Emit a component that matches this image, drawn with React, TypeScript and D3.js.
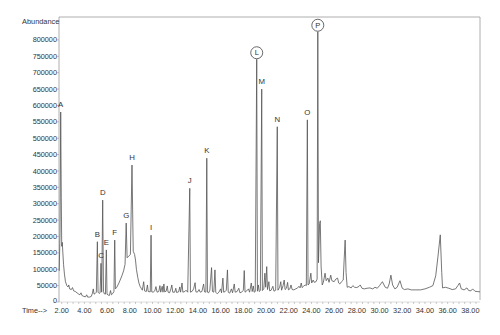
import React from "react";
import * as d3 from "d3";

// Chromatogram trace: [retention time (min), abundance]
const TRACE: [number, number][] = [
  [1.78, 95000], [1.85, 210000], [1.91, 580000], [1.96, 320000], [2.0, 170000], [2.05, 182000],
  [2.1, 150000], [2.16, 115000], [2.24, 85000], [2.33, 62000], [2.45, 50000], [2.55, 46000],
  [2.62, 52000], [2.7, 40000], [2.85, 38000], [2.95, 44000], [3.05, 34000], [3.2, 32000],
  [3.35, 28000], [3.5, 24000], [3.6, 22000], [3.7, 28000], [3.78, 20000], [3.95, 17000],
  [4.1, 16000], [4.2, 22000], [4.28, 15000], [4.45, 15000], [4.6, 17000], [4.7, 26000],
  [4.78, 40000], [4.85, 24000], [4.95, 26000], [5.05, 30000], [5.14, 184000], [5.2, 30000],
  [5.3, 26000], [5.38, 28000], [5.46, 118000], [5.52, 30000], [5.61, 311000], [5.68, 32000],
  [5.75, 25000], [5.85, 24000], [5.93, 159000], [5.99, 24000], [6.1, 21000], [6.2, 20000],
  [6.3, 35000], [6.38, 22000], [6.5, 26000], [6.6, 32000], [6.67, 189000], [6.73, 40000],
  [6.85, 45000], [7.0, 55000], [7.15, 67000], [7.3, 80000], [7.45, 95000], [7.58, 115000],
  [7.68, 241000], [7.76, 135000], [7.9, 140000], [8.05, 145000], [8.19, 418000], [8.3, 155000],
  [8.42, 145000], [8.5, 128000], [8.58, 100000], [8.7, 75000], [8.8, 58000], [8.9, 48000],
  [9.0, 42000], [9.1, 36000], [9.22, 62000], [9.3, 34000], [9.45, 32000], [9.55, 52000],
  [9.62, 32000], [9.8, 31000], [9.87, 204000], [9.93, 31000], [10.05, 30000], [10.2, 34000],
  [10.3, 47000], [10.4, 30000], [10.55, 32000], [10.65, 50000], [10.72, 30000], [10.85, 48000],
  [10.92, 30000], [11.0, 55000], [11.07, 31000], [11.2, 33000], [11.3, 49000], [11.37, 30000],
  [11.5, 28000], [11.62, 40000], [11.7, 52000], [11.78, 30000], [11.95, 30000], [12.05, 42000],
  [12.12, 29000], [12.3, 31000], [12.4, 46000], [12.47, 30000], [12.6, 58000], [12.67, 30000],
  [12.85, 32000], [12.95, 36000], [13.1, 30000], [13.28, 347000], [13.34, 30000], [13.5, 33000],
  [13.62, 40000], [13.75, 59000], [13.82, 31000], [13.95, 30000], [14.1, 38000], [14.2, 30000],
  [14.35, 32000], [14.5, 55000], [14.58, 31000], [14.7, 30000], [14.78, 439000], [14.84, 30000],
  [14.95, 28000], [15.05, 36000], [15.2, 105000], [15.28, 32000], [15.4, 30000], [15.5, 98000],
  [15.57, 30000], [15.7, 25000], [15.85, 30000], [16.0, 40000], [16.08, 28000], [16.2, 73000],
  [16.27, 30000], [16.4, 32000], [16.5, 36000], [16.6, 98000], [16.67, 30000], [16.8, 27000],
  [16.95, 40000], [17.05, 28000], [17.2, 55000], [17.28, 30000], [17.45, 32000], [17.6, 42000],
  [17.7, 28000], [17.85, 30000], [18.0, 36000], [18.08, 96000], [18.15, 30000], [18.3, 34000],
  [18.45, 40000], [18.55, 30000], [18.7, 58000], [18.78, 32000], [18.88, 49000], [18.95, 30000],
  [19.05, 32000], [19.18, 741000], [19.24, 33000], [19.32, 52000], [19.4, 32000], [19.5, 35000],
  [19.62, 650000], [19.68, 35000], [19.8, 40000], [19.9, 88000], [19.97, 45000], [20.06, 108000],
  [20.13, 38000], [20.25, 62000], [20.32, 34000], [20.45, 36000], [20.6, 48000], [20.7, 33000],
  [20.85, 36000], [20.99, 535000], [21.05, 36000], [21.2, 45000], [21.3, 62000], [21.37, 36000],
  [21.5, 50000], [21.6, 67000], [21.68, 38000], [21.8, 42000], [21.9, 60000], [21.97, 37000],
  [22.1, 40000], [22.2, 52000], [22.3, 38000], [22.45, 37000], [22.6, 40000], [22.75, 42000],
  [22.9, 48000], [23.0, 43000], [23.1, 58000], [23.18, 44000], [23.3, 48000], [23.45, 52000],
  [23.55, 50000], [23.64, 556000], [23.7, 52000], [23.8, 55000], [23.95, 88000], [24.02, 58000],
  [24.15, 67000], [24.25, 60000], [24.4, 62000], [24.5, 70000], [24.56, 825000], [24.62, 120000],
  [24.72, 240000], [24.78, 248000], [24.85, 110000], [24.95, 52000], [25.05, 60000], [25.2, 88000],
  [25.3, 65000], [25.45, 73000], [25.55, 60000], [25.7, 82000], [25.8, 65000], [26.0, 62000],
  [26.15, 70000], [26.3, 73000], [26.4, 58000], [26.5, 55000], [26.65, 62000], [26.8, 67000],
  [26.88, 128000], [26.97, 189000], [27.05, 90000], [27.15, 45000], [27.3, 47000], [27.5, 43000],
  [27.65, 50000], [27.8, 45000], [28.0, 44000], [28.2, 48000], [28.3, 52000], [28.45, 42000],
  [28.65, 40000], [28.9, 42000], [29.15, 43000], [29.4, 40000], [29.6, 45000], [29.8, 42000],
  [30.0, 50000], [30.25, 62000], [30.5, 45000], [30.7, 42000], [30.85, 55000], [31.0, 82000],
  [31.15, 52000], [31.35, 40000], [31.55, 45000], [31.8, 65000], [32.0, 42000], [32.2, 38000],
  [32.5, 40000], [32.8, 37000], [33.2, 37000], [33.6, 37000], [34.0, 40000], [34.4, 45000],
  [34.7, 50000], [34.95, 80000], [35.15, 140000], [35.35, 205000], [35.48, 90000], [35.55, 43000],
  [35.8, 45000], [36.1, 42000], [36.4, 38000], [36.7, 40000], [36.9, 50000], [37.05, 58000],
  [37.2, 40000], [37.45, 37000], [37.7, 43000], [37.85, 35000], [38.05, 34000], [38.2, 40000],
  [38.4, 33000], [38.6, 32000], [38.85, 31000],
];

const PEAK_NAMES = ["A", "B", "C", "D", "E", "F", "G", "H", "I", "J", "K", "L", "M", "N", "O", "P"];
const PEAK_TIMES = [1.91, 5.14, 5.46, 5.61, 5.93, 6.67, 7.68, 8.19, 9.87, 13.28, 14.78, 19.18, 19.62, 20.99, 23.64, 24.56];
const PEAK_HEIGHTS = [580000, 184000, 118000, 311000, 159000, 189000, 241000, 418000, 204000, 347000, 439000, 741000, 650000, 535000, 556000, 825000];
const CIRCLED = ["L", "P"];

const Y_TICKS = [0, 50000, 100000, 150000, 200000, 250000, 300000, 350000, 400000, 450000, 500000, 550000, 600000, 650000, 700000, 750000, 800000];
const X_TICKS = [2, 4, 6, 8, 10, 12, 14, 16, 18, 20, 22, 24, 26, 28, 30, 32, 34, 36, 38];
const X_DOMAIN: [number, number] = [1.76, 38.85];
const Y_DOMAIN: [number, number] = [0, 870000];

const W = 500;
const H = 335;
const LEFT = 59;
const RIGHT = 480;
const TOP = 17;
const BOTTOM = 302;
const FONT = "'Liberation Sans', Arial, sans-serif";

export default function App() {
  const x = d3.scaleLinear().domain(X_DOMAIN).range([LEFT, RIGHT]);
  const y = d3.scaleLinear().domain(Y_DOMAIN).range([BOTTOM, TOP]);
  const line = d3
    .line<[number, number]>()
    .x((d) => x(d[0]))
    .y((d) => y(d[1]));

  const minor = d3.range(2, 38.9, 0.5);

  return (
    <div style={{ position: "fixed", left: 0, top: 0 }}>
      <svg width={W} height={H} style={{ display: "block", background: "#fff" }}>
        {/* frame */}
        <path
          d={`M${LEFT},${BOTTOM} V${TOP} H${RIGHT} V${BOTTOM - 2}`}
          fill="none"
          stroke="#9a9a9a"
          strokeWidth={0.8}
        />
        <line x1={LEFT} x2={RIGHT} y1={BOTTOM} y2={BOTTOM} stroke="#c8c8c8" strokeWidth={0.6} />
        <text x={22} y={24} fontFamily={FONT} fontSize={7.4} fill="#333">
          Abundance
        </text>
        {Y_TICKS.map((v) => (
          <g key={v}>
            <line x1={LEFT - 2} x2={LEFT} y1={y(v)} y2={y(v)} stroke="#999" strokeWidth={0.6} />
            <text
              x={LEFT - 2}
              y={y(v) - (v === 0 ? 1.5 : 0)}
              dy="0.35em"
              textAnchor="end"
              fontFamily={FONT}
              fontSize={7.3}
              fill="#333"
            >
              {v}
            </text>
          </g>
        ))}
        {minor.map((t) => (
          <line key={t} x1={x(t)} x2={x(t)} y1={BOTTOM} y2={BOTTOM + 2} stroke="#999" strokeWidth={0.5} />
        ))}
        {X_TICKS.map((t) => (
          <text
            key={t}
            x={x(t)}
            y={312.5}
            textAnchor="middle"
            fontFamily={FONT}
            fontSize={7.3}
            fill="#333"
          >
            {t.toFixed(2)}
          </text>
        ))}
        <text x={22} y={312.5} fontFamily={FONT} fontSize={7.3} fill="#333">
          Time--&gt;
        </text>
        <path d={line(TRACE) ?? ""} fill="none" stroke="#555" strokeWidth={0.8} strokeLinejoin="round" />
        {PEAK_NAMES.map((name, i) => {
          const px = x(PEAK_TIMES[i]);
          const py = y(PEAK_HEIGHTS[i]);
          if (CIRCLED.includes(name)) {
            return (
              <g key={name}>
                <circle cx={px} cy={py - 6.5} r={6} fill="#fff" stroke="#444" strokeWidth={0.8} />
                <text
                  x={px}
                  y={py - 6.5}
                  dy="0.36em"
                  textAnchor="middle"
                  fontFamily={FONT}
                  fontSize={7.5}
                  fill="#333"
                >
                  {name}
                </text>
              </g>
            );
          }
          return (
            <text
              key={name}
              x={px}
              y={py - 5}
              textAnchor="middle"
              fontFamily={FONT}
              fontSize={7.8}
              fill="#333"
            >
              {name}
            </text>
          );
        })}
      </svg>
    </div>
  );
}
